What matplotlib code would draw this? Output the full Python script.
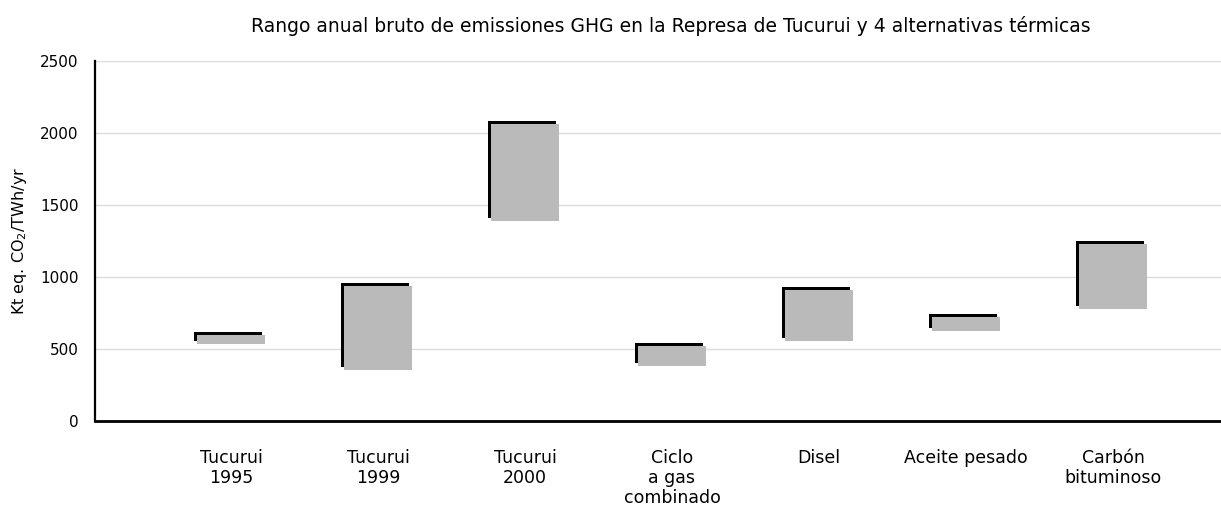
import matplotlib
matplotlib.use("Agg")
import matplotlib.pyplot as plt
import matplotlib.transforms as mtransforms
import numpy as np

categorias = ["Tucurui\n1995", "Tucurui\n1999", "Tucurui\n2000",
              "Ciclo\na gas\ncombinado", "Disel", "Aceite pesado",
              "Carbón\nbituminoso"]
minimo = [535, 354, 1390, 384, 558, 627, 780]
maximo = [597, 940, 2062, 521, 910, 722, 1229]
y_ticks = [0, 500, 1000, 1500, 2000, 2500]

plt.rcParams['font.family'] = ['DejaVu Sans']

fig = plt.figure(figsize=(12.21, 5.14), dpi=100)
ax = fig.add_axes([95/1221, 93/514, 1 - 95/1221, 360/514])

x = np.arange(len(categorias))
alto = np.array(maximo) - np.array(minimo)
ancho = 0.463

# sombra negra desplazada arriba a la izquierda
sombra = ax.transData + mtransforms.ScaledTranslation(-3/100, 3/100, fig.dpi_scale_trans)
ax.bar(x, alto, bottom=minimo, width=ancho, color="black", transform=sombra, zorder=2)
ax.bar(x, alto, bottom=minimo, width=ancho, color="#bababa", zorder=3)

ax.set_xlim(-0.925, 6.735)
ax.set_ylim(0, 2500)
ax.set_yticks(y_ticks)
ax.set_xticks(x)
ax.set_xticklabels(categorias, fontsize=12.5, linespacing=1.15)
ax.tick_params(axis="x", length=0, pad=20)
ax.tick_params(axis="y", length=0, pad=12, labelsize=11)
ax.yaxis.grid(True, color="#dcdcdc", linewidth=1.0, zorder=0)
ax.set_axisbelow(True)

for lado in ["top", "right"]:
    ax.spines[lado].set_visible(False)
ax.spines["left"].set_linewidth(1.6)
ax.spines["bottom"].set_linewidth(2.0)

ax.set_ylabel(r"Kt eq. CO$_2$/TWh/yr", fontsize=11.5, labelpad=8)
fig.text(671/1221, 1 - 26/514, "Rango anual bruto de emissiones GHG en la Represa de Tucurui y 4 alternativas térmicas",
         ha="center", va="center", fontsize=13.5)

fig.savefig("out.png", dpi=100)
